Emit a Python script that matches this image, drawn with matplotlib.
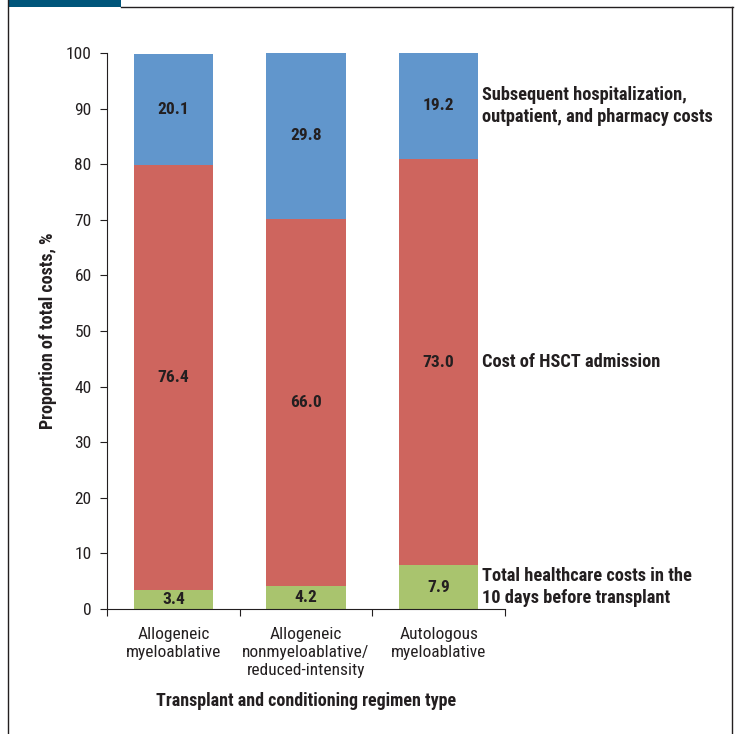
import matplotlib
matplotlib.use("Agg")
import matplotlib.pyplot as plt
import numpy as np
from matplotlib.lines import Line2D
from matplotlib.patches import Rectangle

plt.rcParams['font.family'] = ['Roboto Condensed', 'DejaVu Sans']

# data
categories = ["Allogeneic\nmyeloablative",
              "Allogeneic\nnonmyeloablative/\nreduced-intensity",
              "Autologous\nmyeloablative"]
pre_transplant = [3.4, 4.2, 7.9]
hsct_admission = [76.4, 66.0, 73.0]
subsequent = [20.1, 29.8, 19.2]
series_names = ["Total healthcare costs in the\n10 days before transplant",
                "Cost of HSCT admission",
                "Subsequent hospitalization,\noutpatient, and pharmacy costs"]
colors = ["#A9C46E", "#CE655E", "#6196CC"]
text_col = "#231f20"

fig = plt.figure(figsize=(7.35, 7.34), dpi=100)
ax = fig.add_axes([0.1456, 0.1703, 0.5415, 0.7575])

x = np.arange(len(categories))
bottom = np.zeros(len(categories))
series = [pre_transplant, hsct_admission, subsequent]
for vals, col, name in zip(series, colors, series_names):
    vals = np.array(vals)
    ax.bar(x, vals, bottom=bottom, width=0.6, color=col, edgecolor="none")
    for xi, b, v in zip(x, bottom, vals):
        ax.text(xi, b + v / 2, f"{v:.1f}", ha="center", va="center",
                fontsize=12.5, fontweight="bold", color=text_col)
    # series label to the right of the last bar
    ax.text(2.33, bottom[-1] + vals[-1] / 2, name, ha="left", va="center",
            fontsize=13.2, fontweight="bold", color=text_col,
            linespacing=1.3)
    bottom = bottom + vals

ax.set_xlim(-0.5, 2.5)
ax.set_ylim(0, 100)
ax.set_yticks(range(0, 101, 10))
ax.set_xticks([-0.5, 0.5, 1.5, 2.5])
ax.set_xticklabels([])
ax.set_xticks(x, minor=True)
ax.set_xticklabels(categories, minor=True, fontsize=12.5, linespacing=1.25,
                   color=text_col)
ax.tick_params(axis="x", which="minor", length=0, pad=13)
ax.tick_params(axis="x", which="major", length=5, direction="out",
               color=text_col)
ax.tick_params(axis="y", length=5, direction="out", labelsize=12.5,
               labelcolor=text_col, color=text_col, pad=6)
for s in ["top", "right"]:
    ax.spines[s].set_visible(False)
for s in ["left", "bottom"]:
    ax.spines[s].set_color(text_col)

ax.set_ylabel("Proportion of total costs, %", fontsize=13, fontweight="bold",
              color=text_col)
ax.yaxis.set_label_coords(-0.125, 0.5)
ax.set_xlabel("Transplant and conditioning regimen type", fontsize=13,
              fontweight="bold", color=text_col)
ax.xaxis.set_label_coords(0.5, -0.149)

# page frame from the source figure
W, H = 735, 734
fig.add_artist(Rectangle((8 / W, 1 - 7 / H), 113 / W, 7 / H,
                         transform=fig.transFigure, color="#00557A", lw=0))
fig.add_artist(Line2D([121 / W, 733 / W], [1 - 7 / H, 1 - 7 / H],
                      transform=fig.transFigure, color=text_col, lw=1))
fig.add_artist(Line2D([8 / W, 8 / W], [0, 1], transform=fig.transFigure,
                      color=text_col, lw=1))
fig.add_artist(Line2D([732 / W, 732 / W], [0, 1 - 7 / H],
                      transform=fig.transFigure, color=text_col, lw=1))

fig.savefig("out.png", dpi=100)
